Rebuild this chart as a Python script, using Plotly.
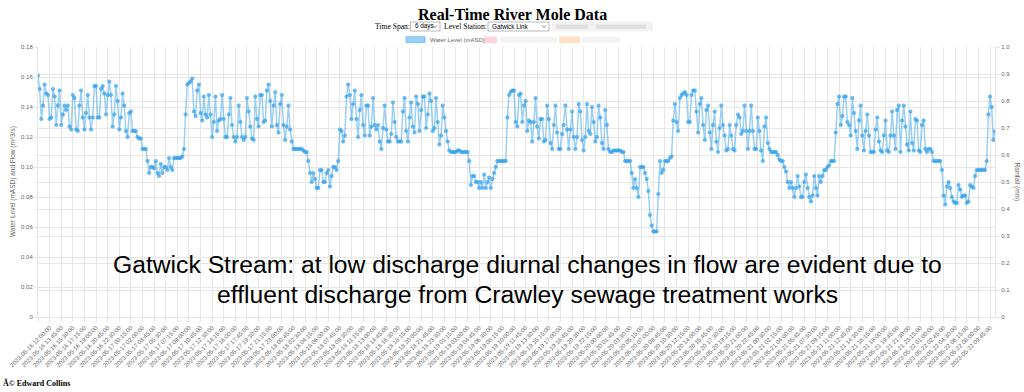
import pandas as pd
import plotly.graph_objects as go

# ---------------- data ----------------
start_time = "2023-05-16 10:15:00"
step = "15min"

# Water level readings (mASD), 15-minute intervals
level_16_17 = [
    0.161, 0.152, 0.132, 0.141, 0.155, 0.149, 0.148, 0.132, 0.133, 0.152,
    0.147, 0.128, 0.141, 0.151, 0.128, 0.135, 0.141, 0.138, 0.141, 0.127,
    0.125, 0.148, 0.146, 0.125, 0.124, 0.141, 0.151, 0.133, 0.125, 0.136,
    0.148, 0.133, 0.125, 0.133, 0.154, 0.154, 0.133, 0.133, 0.152, 0.154,
    0.149, 0.135, 0.148, 0.157, 0.148, 0.127, 0.135, 0.154, 0.144, 0.125,
    0.133, 0.149, 0.141, 0.124, 0.120, 0.136, 0.137, 0.124, 0.124, 0.124,
    0.120, 0.119, 0.119, 0.112, 0.112, 0.112, 0.104, 0.096, 0.100, 0.100,
    0.099, 0.104, 0.096, 0.094, 0.102, 0.096, 0.100, 0.100, 0.098, 0.106,
    0.100, 0.098, 0.106, 0.106, 0.106, 0.106, 0.106, 0.107, 0.112, 0.135,
    0.155, 0.156, 0.157, 0.159, 0.137, 0.134, 0.151, 0.155, 0.136, 0.131,
    0.147, 0.135, 0.133, 0.148, 0.135, 0.120, 0.130, 0.147, 0.124, 0.131,
    0.132, 0.148, 0.132, 0.120, 0.120, 0.135, 0.146, 0.128, 0.120, 0.117,
    0.120, 0.141, 0.130, 0.120, 0.118, 0.120, 0.146, 0.137, 0.127, 0.119,
    0.118, 0.147, 0.132, 0.127, 0.148, 0.148, 0.130, 0.131, 0.151, 0.155,
]

level_17_20 = [
    0.144, 0.127, 0.141, 0.150, 0.128, 0.123, 0.142, 0.148, 0.128, 0.118,
    0.127, 0.141, 0.125, 0.117, 0.112, 0.112, 0.112, 0.112, 0.112, 0.112,
    0.111, 0.110, 0.110, 0.104, 0.096, 0.090, 0.096, 0.092, 0.086, 0.086,
    0.098, 0.098, 0.090, 0.090, 0.096, 0.098, 0.087, 0.094, 0.100, 0.100,
    0.098, 0.104, 0.125, 0.124, 0.117, 0.121, 0.147, 0.155, 0.148, 0.132,
    0.142, 0.151, 0.132, 0.120, 0.138, 0.148, 0.128, 0.121, 0.141, 0.141,
    0.121, 0.127, 0.146, 0.128, 0.125, 0.128, 0.117, 0.112, 0.126, 0.141,
    0.125, 0.117, 0.117, 0.122, 0.143, 0.130, 0.120, 0.117, 0.117, 0.117,
    0.137, 0.146, 0.124, 0.117, 0.133, 0.143, 0.127, 0.123, 0.147, 0.142,
    0.124, 0.138, 0.147, 0.147, 0.126, 0.135, 0.149, 0.144, 0.124, 0.126,
    0.146, 0.130, 0.115, 0.121, 0.141, 0.133, 0.124, 0.117, 0.111, 0.110,
    0.110, 0.110, 0.110, 0.111, 0.111, 0.110, 0.110, 0.110, 0.110, 0.110, 0.104,
    0.088, 0.094, 0.094, 0.090, 0.090, 0.086, 0.090, 0.086, 0.095, 0.086,
    0.090, 0.093, 0.086, 0.092, 0.096, 0.100, 0.104, 0.104, 0.104, 0.104, 0.104,
    0.104, 0.133, 0.148, 0.150, 0.151, 0.151, 0.130, 0.127, 0.148, 0.149,
    0.130, 0.141, 0.144, 0.124, 0.131, 0.130, 0.117, 0.130, 0.146, 0.127,
    0.119, 0.132, 0.132, 0.117, 0.118, 0.141, 0.132, 0.116, 0.112, 0.128,
    0.141, 0.123, 0.112, 0.112, 0.122, 0.128, 0.141, 0.125, 0.112, 0.125,
    0.137, 0.120, 0.112, 0.120, 0.142, 0.137, 0.118, 0.111, 0.120, 0.142,
    0.124, 0.122, 0.140, 0.130, 0.117, 0.120, 0.141, 0.133, 0.116, 0.112,
    0.138, 0.128, 0.112, 0.110, 0.110, 0.111, 0.111, 0.111, 0.111, 0.111,
    0.110, 0.110, 0.104, 0.104, 0.104, 0.104, 0.096, 0.086, 0.092, 0.086,
    0.080, 0.100,
]

level_20_22 = [
    0.100, 0.100, 0.096, 0.092, 0.084, 0.068, 0.061, 0.057, 0.057, 0.057,
    0.082, 0.104, 0.096, 0.098, 0.104, 0.104, 0.104, 0.106, 0.107, 0.131,
    0.142, 0.130, 0.124, 0.146, 0.148, 0.149, 0.150, 0.148, 0.130, 0.130,
    0.148, 0.151, 0.151, 0.137, 0.123, 0.142, 0.146, 0.128, 0.118, 0.138,
    0.141, 0.123, 0.112, 0.128, 0.137, 0.117, 0.110, 0.126, 0.141, 0.128,
    0.121, 0.111, 0.112, 0.128, 0.121, 0.112, 0.111, 0.128, 0.135, 0.133,
    0.122, 0.124, 0.141, 0.124, 0.112, 0.124, 0.141, 0.124, 0.112, 0.112,
    0.133, 0.124, 0.111, 0.104, 0.127, 0.133, 0.116, 0.112, 0.110, 0.110,
    0.110, 0.110, 0.108, 0.105, 0.104, 0.104, 0.100, 0.097, 0.090, 0.086,
    0.090, 0.086, 0.080, 0.086, 0.094, 0.087, 0.080, 0.080, 0.090, 0.095,
    0.086, 0.080, 0.077, 0.081, 0.094, 0.086, 0.081, 0.094, 0.090, 0.094,
    0.098, 0.098, 0.100, 0.101, 0.104, 0.104, 0.104, 0.123, 0.142, 0.147,
    0.128, 0.134, 0.147, 0.147, 0.130, 0.128, 0.121, 0.146, 0.136, 0.124,
    0.112, 0.131, 0.141, 0.121, 0.111, 0.124, 0.135, 0.121, 0.110, 0.110,
    0.110, 0.125, 0.133, 0.117, 0.111, 0.110, 0.121, 0.131, 0.111, 0.110,
    0.121, 0.137, 0.121, 0.112, 0.138, 0.141, 0.110, 0.131, 0.141, 0.127,
    0.115, 0.111, 0.137, 0.116, 0.111, 0.132, 0.131, 0.111, 0.110, 0.128,
    0.131, 0.112, 0.110, 0.112, 0.112, 0.110, 0.104, 0.104, 0.104, 0.104,
    0.104, 0.098, 0.081, 0.075, 0.087, 0.090, 0.086, 0.080, 0.077, 0.076,
    0.076, 0.088, 0.085, 0.080, 0.081, 0.081, 0.076, 0.077, 0.088, 0.087,
    0.086, 0.094, 0.098, 0.098, 0.098, 0.098, 0.098, 0.098, 0.104, 0.135, 0.147,
    0.140, 0.118, 0.124,
]

water_level = level_16_17 + level_17_20 + level_20_22
times = pd.date_range(start_time, periods=len(water_level), freq=step)

label_every = 7
tick_times = list(times[::label_every])
tick_labels = [t.strftime("%Y-%m-%d %H:%M:%S") for t in tick_times]

left_ticks = [0, 0.02, 0.04, 0.06, 0.08, 0.10, 0.12, 0.14, 0.16, 0.18]
left_tick_text = ["0", "0.02", "0.04", "0.06", "0.08", "0.10", "0.12", "0.14", "0.16", "0.18"]
right_ticks = [0, 0.1, 0.2, 0.3, 0.4, 0.5, 0.6, 0.7, 0.8, 0.9, 1.0]
right_tick_text = ["0", "0.1", "0.2", "0.3", "0.4", "0.5", "0.6", "0.7", "0.8", "0.9", "1.0"]

# ---------------- layout geometry (pixels) ----------------
W, H = 1024, 392
L, R, T, B = 38, 995, 47, 317


def px(x):
    return (x - L) / (R - L)


def py(y):
    return (B - y) / (B - T)


GRID = "#e6e6e6"
TICKC = "#666666"
SANS = "Liberation Sans, Arial, Helvetica, sans-serif"
SERIF = "Liberation Serif, Times New Roman, serif"

fig = go.Figure()
fig.add_trace(go.Scatter(
    x=times, y=water_level, mode="lines+markers", name="Water Level (mASD)",
    line=dict(color="rgba(54,162,235,0.5)", width=1.5),
    marker=dict(size=3.6, color="rgba(54,162,235,0.7)",
                line=dict(color="rgba(54,162,235,0.8)", width=0.5)),
    yaxis="y", showlegend=False, hoverinfo="x+y",
))
# rainfall axis (no visible rainfall data)
fig.add_trace(go.Scatter(x=[times[0]], y=[None], yaxis="y2", mode="lines",
                         showlegend=False, hoverinfo="skip"))

shapes = []
annotations = []

# Title
annotations.append(dict(text="<b>Real-Time River Mole Data</b>", x=px(512), y=py(14),
                        xref="paper", yref="paper", showarrow=False,
                        xanchor="center", yanchor="middle",
                        font=dict(family=SERIF, size=16, color="black")))

# Controls row
annotations.append(dict(text="Time Span:", x=px(372.5), y=py(26.5), xref="paper", yref="paper",
                        showarrow=False, xanchor="left", yanchor="middle",
                        font=dict(family=SERIF, size=7.6, color="black")))
annotations.append(dict(text="Level Station:", x=px(441.5), y=py(26.5), xref="paper", yref="paper",
                        showarrow=False, xanchor="left", yanchor="middle",
                        font=dict(family=SERIF, size=7.6, color="black")))


def select_box(x0, x1, label):
    shapes.append(dict(type="rect", xref="paper", yref="paper",
                       x0=px(x0), x1=px(x1), y0=py(31), y1=py(22),
                       line=dict(color="#8a8a8a", width=0.6), fillcolor="white"))
    annotations.append(dict(text=label, x=px(x0 + 2), y=py(26.5), xref="paper", yref="paper",
                            showarrow=False, xanchor="left", yanchor="middle",
                            font=dict(family=SANS, size=6.3, color="black")))
    cx = x1 - 5
    shapes.append(dict(type="path", xref="paper", yref="paper",
                       path=f"M {px(cx-2)},{py(25.5)} L {px(cx)},{py(27.5)} L {px(cx+2)},{py(25.5)}",
                       line=dict(color="#444", width=0.7)))


select_box(410.5, 440, "6 days")
select_box(488, 549, "Gatwick Link")
# blurred (redacted) element
shapes.append(dict(type="rect", xref="paper", yref="paper", x0=px(552), x1=px(653),
                   y0=py(31.5), y1=py(21.5), line=dict(width=0), fillcolor="rgba(0,0,0,0.05)"))
shapes.append(dict(type="rect", xref="paper", yref="paper", x0=px(556), x1=px(588),
                   y0=py(29), y1=py(24.5), line=dict(width=0), fillcolor="rgba(0,0,0,0.07)"))
shapes.append(dict(type="rect", xref="paper", yref="paper", x0=px(596), x1=px(646),
                   y0=py(29), y1=py(24.5), line=dict(width=0), fillcolor="rgba(0,0,0,0.07)"))

# Legend
shapes.append(dict(type="rect", xref="paper", yref="paper", x0=px(406), x1=px(425),
                   y0=py(42.7), y1=py(36.7), line=dict(color="rgba(54,162,235,0.7)", width=0.7),
                   fillcolor="rgba(54,162,235,0.5)"))
annotations.append(dict(text="Water Level (mASD)", x=px(428), y=py(39.7), xref="paper", yref="paper",
                        showarrow=False, xanchor="left", yanchor="middle",
                        font=dict(family=SANS, size=6, color=TICKC)))
shapes.append(dict(type="rect", xref="paper", yref="paper", x0=px(484), x1=px(497),
                   y0=py(43), y1=py(36.5), line=dict(width=0), fillcolor="rgba(255,99,132,0.28)"))
shapes.append(dict(type="rect", xref="paper", yref="paper", x0=px(500), x1=px(557),
                   y0=py(42.5), y1=py(37), line=dict(width=0), fillcolor="rgba(0,0,0,0.05)"))
shapes.append(dict(type="rect", xref="paper", yref="paper", x0=px(559), x1=px(580),
                   y0=py(43), y1=py(36.5), line=dict(width=0), fillcolor="rgba(255,159,64,0.32)"))
shapes.append(dict(type="rect", xref="paper", yref="paper", x0=px(582), x1=px(620),
                   y0=py(42.5), y1=py(37), line=dict(width=0), fillcolor="rgba(0,0,0,0.05)"))

# Axis titles
annotations.append(dict(text="Water Level (mASD) and Flow (m^3/s)", x=px(13), y=py(182),
                        xref="paper", yref="paper", showarrow=False, textangle=-90,
                        xanchor="center", yanchor="middle",
                        font=dict(family=SANS, size=6.5, color=TICKC)))
annotations.append(dict(text="Rainfall (mm)", x=px(1016.5), y=py(182),
                        xref="paper", yref="paper", showarrow=False, textangle=90,
                        xanchor="center", yanchor="middle",
                        font=dict(family=SANS, size=6.5, color=TICKC)))

# Overlay caption
annotations.append(dict(text="Gatwick Stream: at low discharge diurnal changes in flow are evident due to",
                        x=px(527), y=py(264), xref="paper", yref="paper", showarrow=False,
                        xanchor="center", yanchor="middle",
                        font=dict(family=SANS, size=24.7, color="black")))
annotations.append(dict(text="effluent discharge from Crawley sewage treatment works",
                        x=px(527), y=py(294), xref="paper", yref="paper", showarrow=False,
                        xanchor="center", yanchor="middle",
                        font=dict(family=SANS, size=24.7, color="black")))

# Footer
annotations.append(dict(text="<b>Â© Edward Collins</b>", x=px(1), y=py(383), xref="paper", yref="paper",
                        showarrow=False, xanchor="left", yanchor="middle",
                        font=dict(family=SERIF, size=8, color="black")))

fig.update_layout(
    width=W, height=H,
    margin=dict(l=L, r=W - R, t=T, b=H - B, pad=0, autoexpand=False),
    paper_bgcolor="white", plot_bgcolor="white",
    showlegend=False,
    font=dict(family=SANS, size=6, color=TICKC),
    xaxis=dict(
        type="date", range=[times[0], times[-1]], automargin=False,
        tickmode="array", tickvals=tick_times, ticktext=tick_labels,
        tickangle=-45, tickfont=dict(family=SANS, size=6, color=TICKC),
        showgrid=True, gridcolor=GRID, gridwidth=1,
        ticks="outside", ticklen=4, tickcolor=GRID,
        showline=True, linecolor=GRID, linewidth=1,
        zeroline=False,
    ),
    yaxis=dict(
        range=[0, 0.18], automargin=False,
        tickmode="array", tickvals=left_ticks, ticktext=left_tick_text,
        tickfont=dict(family=SANS, size=6, color=TICKC),
        showgrid=True, gridcolor=GRID, gridwidth=1,
        ticks="outside", ticklen=3, tickcolor=GRID,
        showline=True, linecolor=GRID, zeroline=False,
    ),
    yaxis2=dict(
        range=[0, 1.0], overlaying="y", side="right", anchor="x", automargin=False,
        tickmode="array", tickvals=right_ticks, ticktext=right_tick_text,
        tickfont=dict(family=SANS, size=6, color=TICKC),
        showgrid=True, gridcolor=GRID, gridwidth=1,
        ticks="outside", ticklen=4, tickcolor=GRID,
        showline=True, linecolor=GRID, zeroline=False,
    ),
    shapes=shapes,
    annotations=annotations,
)

fig.write_html(
    "out.html",
    config={"displayModeBar": False},
    post_script="document.body.style.margin='0';document.body.style.padding='0';",
)
